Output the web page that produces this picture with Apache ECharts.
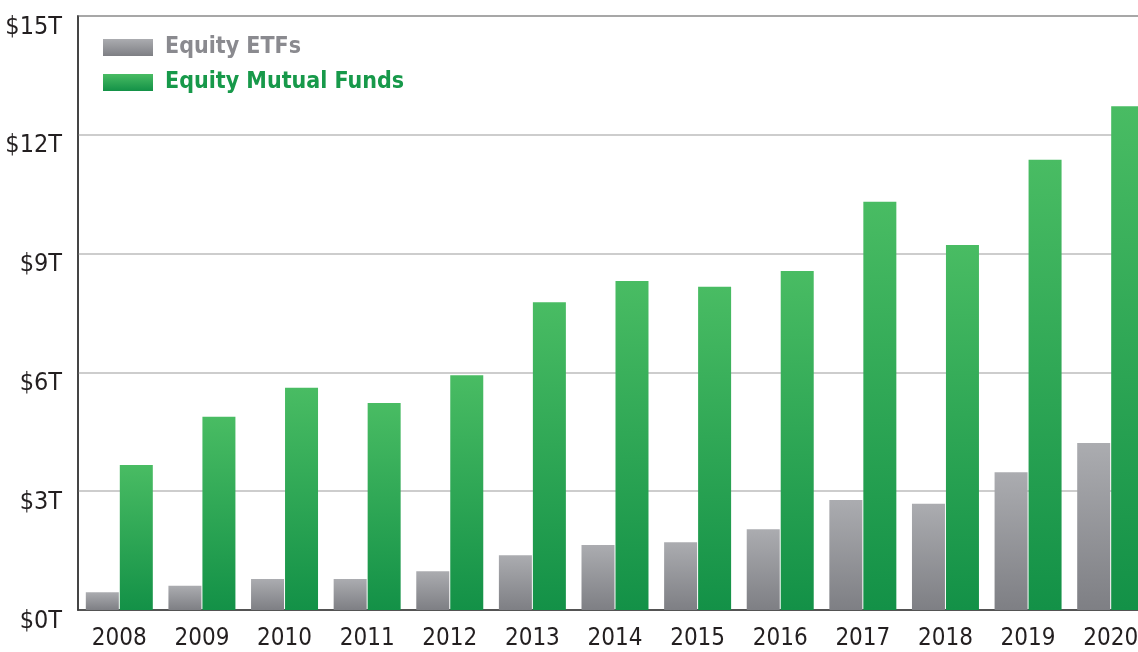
<!DOCTYPE html>
<html>
<head>
<meta charset="utf-8">
<script src="https://cdn.jsdelivr.net/npm/echarts@6/dist/echarts.min.js"></script>
<style>
html,body{margin:0;padding:0;background:#fff;overflow:hidden;width:1138px;height:652px;}
#chart{width:1152px;height:652px;}
</style>
</head>
<body>
<div id="chart"></div>
<script>
const years = ['2008','2009','2010','2011','2012','2013','2014','2015','2016','2017','2018','2019','2020'];
const equityETFs = [0.45,0.61,0.78,0.78,0.98,1.38,1.64,1.71,2.04,2.78,2.68,3.48,4.22];
const equityMutualFunds = [3.66,4.88,5.61,5.23,5.93,7.77,8.31,8.16,8.56,10.31,9.22,11.37,12.72];
const yTicks = [0,3,6,9,12,15];
const seriesNames = ['Equity ETFs','Equity Mutual Funds'];

const FONT = '"Liberation Sans Narrow","DejaVu Sans Condensed","Roboto",sans-serif';
const grayGrad = new echarts.graphic.LinearGradient(0,0,0,1,[{offset:0,color:'#abacb0'},{offset:1,color:'#7e7f84'}]);
const greenGrad = new echarts.graphic.LinearGradient(0,0,0,1,[{offset:0,color:'#49bc63'},{offset:1,color:'#139147'}]);

const chart = echarts.init(document.getElementById('chart'), null, {renderer:'canvas'});
chart.setOption({
  animation:false,
  backgroundColor:'#fff',
  grid:{left:78, top:16, bottom:42, right:0, show:true, borderColor:'#3a3a3a', borderWidth:1.5, containLabel:false},
  legend:{
    orient:'vertical', left:103, top:36, itemWidth:50, itemHeight:17, itemGap:12, padding:0,
    icon:'rect',
    data:[
      {name:seriesNames[0], textStyle:{color:'#8a8a8f'}},
      {name:seriesNames[1], textStyle:{color:'#17994a'}}
    ],
    textStyle:{fontFamily:FONT, fontWeight:'bold', fontSize:23, padding:[0,0,0,7], lineHeight:21}
  },
  xAxis:{
    type:'category', data:years,
    axisLine:{lineStyle:{color:'#3a3a3a', width:1.5}},
    axisTick:{show:false},
    axisLabel:{color:'#231f20', fontFamily:FONT, fontSize:24, margin:17}
  },
  yAxis:{
    type:'value', min:0, max:15, interval:3,
    axisLine:{show:true, lineStyle:{color:'#3a3a3a', width:1.5}},
    axisTick:{show:false},
    splitLine:{lineStyle:{color:'#bdbdbd', width:1.5}},
    axisLabel:{color:'#231f20', fontFamily:FONT, fontSize:25, margin:16, verticalAlign:'top', lineHeight:22,
      formatter:function(v){ return yTicks.indexOf(v)>=0 ? '$'+v+'T' : ''; }}
  },
  series:[
    {name:seriesNames[0], type:'bar', data:equityETFs, barWidth:33, barGap:'3%', itemStyle:{color:grayGrad}},
    {name:seriesNames[1], type:'bar', data:equityMutualFunds, barWidth:33, itemStyle:{color:greenGrad}}
  ]
});
</script>
</body>
</html>
